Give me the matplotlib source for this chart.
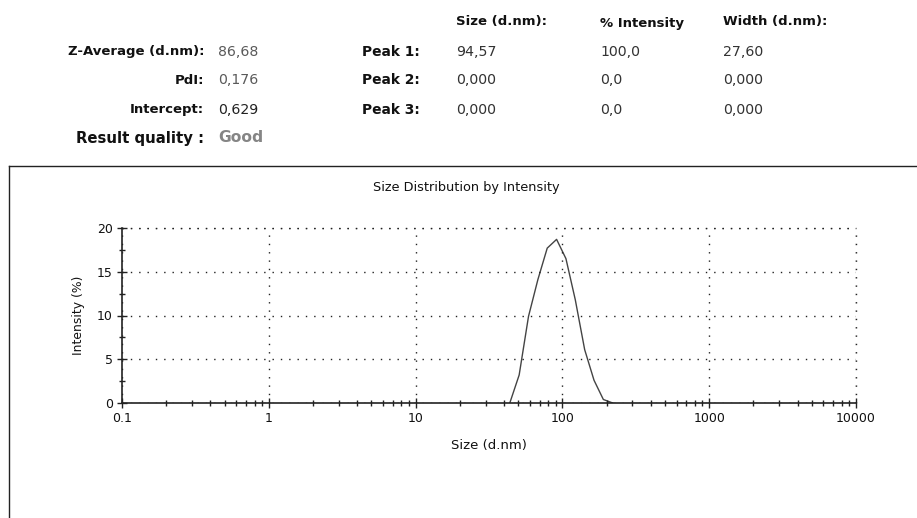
import matplotlib
matplotlib.use("Agg")
import matplotlib.pyplot as plt
from matplotlib.ticker import LogLocator, FixedLocator, NullFormatter, FixedFormatter
from matplotlib.lines import Line2D

plt.rcParams['font.family'] = ['DejaVu Sans']

# ---- data ----
sizes = [43.82, 50.75, 58.77, 68.06, 78.82, 91.28, 105.7, 122.4, 141.8, 164.2, 190.1, 220.2]
intensity = [0.0, 3.2, 9.9, 14.1, 17.7, 18.7, 16.5, 11.8, 6.1, 2.6, 0.4, 0.0]

x_ticks = [0.1, 1, 10, 100, 1000, 10000]
x_tick_labels = ["0.1", "1", "10", "100", "1000", "10000"]
y_ticks = [0, 5, 10, 15, 20]

summary_labels = ["Z-Average (d.nm):", "PdI:", "Intercept:", "Result quality :"]
summary_values = ["86,68", "0,176", "0,629", "Good"]
peak_labels = ["Peak 1:", "Peak 2:", "Peak 3:"]
col_headers = ["Size (d.nm):", "% Intensity", "Width (d.nm):"]
peak_size = ["94,57", "0,000", "0,000"]
peak_int = ["100,0", "0,0", "0,0"]
peak_width = ["27,60", "0,000", "0,000"]

W, H = 917, 518
fig = plt.figure(figsize=(W / 100, H / 100), dpi=100)

def fx(px):
    return px / W

def fy(py):
    return 1 - py / H

# ---- header text ----
fs_lab = 9.5
fs_val = 10.2
row_y = [52, 80, 110, 138]
val_colors = ["#5a5a5a", "#5a5a5a", "#222222", "#858585"]
for i, (lab, val) in enumerate(zip(summary_labels, summary_values)):
    big = (i == 3)
    fig.text(fx(204), fy(row_y[i]), lab, ha='right', va='center', fontsize=10.7 if big else fs_lab,
             fontweight='bold', color='#111111')
    fig.text(fx(218), fy(row_y[i]), val, ha='left', va='center', fontsize=11.2 if big else fs_val,
             fontweight='bold' if big else 'normal', color=val_colors[i])

hdr_x = [456, 600, 723]
hdr_y = [21, 23, 21]
for x, y, h in zip(hdr_x, hdr_y, col_headers):
    fig.text(fx(x), fy(y), h, ha='left', va='center', fontsize=fs_lab, fontweight='bold', color='#111111')

for i, lab in enumerate(peak_labels):
    y = row_y[i]
    fig.text(fx(362), fy(y), lab, ha='left', va='center', fontsize=9.9, fontweight='bold', color='#111111')
    fig.text(fx(456), fy(y), peak_size[i], ha='left', va='center', fontsize=fs_val, color='#333333')
    fig.text(fx(600), fy(y), peak_int[i], ha='left', va='center', fontsize=fs_val, color='#333333')
    fig.text(fx(723), fy(y), peak_width[i], ha='left', va='center', fontsize=fs_val, color='#333333')

# ---- frame lines ----
fig.add_artist(Line2D([fx(9), 1.0], [fy(165.5), fy(165.5)], color='#222222', lw=1.0))
fig.add_artist(Line2D([fx(9), fx(9)], [fy(165.5), 0.0], color='#222222', lw=1.0))

# ---- plot ----
left, right = 122, 856
top, bottom = 228, 403
ax = fig.add_axes([fx(left), fy(bottom), (right - left) / W, (bottom - top) / H])
ax.plot(sizes, intensity, color='#444444', lw=1.0)
ax.set_xscale('log')
ax.set_xlim(0.1, 10000)
ax.set_ylim(0, 20)

ax.xaxis.set_major_locator(FixedLocator(x_ticks))
ax.xaxis.set_major_formatter(FixedFormatter(x_tick_labels))
ax.xaxis.set_minor_locator(LogLocator(base=10, subs=range(2, 10)))
ax.xaxis.set_minor_formatter(NullFormatter())
ax.yaxis.set_major_locator(FixedLocator(y_ticks))
ax.yaxis.set_minor_locator(FixedLocator([2.5, 7.5, 12.5, 17.5]))

for s in ['top', 'right']:
    ax.spines[s].set_visible(False)
for s in ['left', 'bottom']:
    ax.spines[s].set_color('#222222')
    ax.spines[s].set_linewidth(1.2)

ax.tick_params(axis='both', which='major', direction='inout', length=7, width=1, colors='#222222',
               labelsize=9, labelcolor='#111111', pad=3)
ax.tick_params(axis='both', which='minor', direction='inout', length=5, width=1, colors='#222222')

ax.grid(True, which='major', color='#222222', linestyle=(0, (1, 5)), lw=1.0)
ax.set_axisbelow(False)
ax.axhline(20, color='#222222', linestyle=(0, (1, 5)), lw=1.0, clip_on=False)
ax.axvline(10000, color='#222222', linestyle=(0, (1, 5)), lw=1.0, clip_on=False)

# title centred on the framed panel
fig.text(fx(466), fy(188), "Size Distribution by Intensity", ha='center', va='center',
         fontsize=9.3, color='#111111')
ax.set_xlabel("Size (d.nm)", fontsize=9.5, color='#111111', labelpad=10)
ax.set_ylabel("Intensity (%)", fontsize=8.9, color='#111111', labelpad=9)

fig.savefig("out.png", dpi=100)
